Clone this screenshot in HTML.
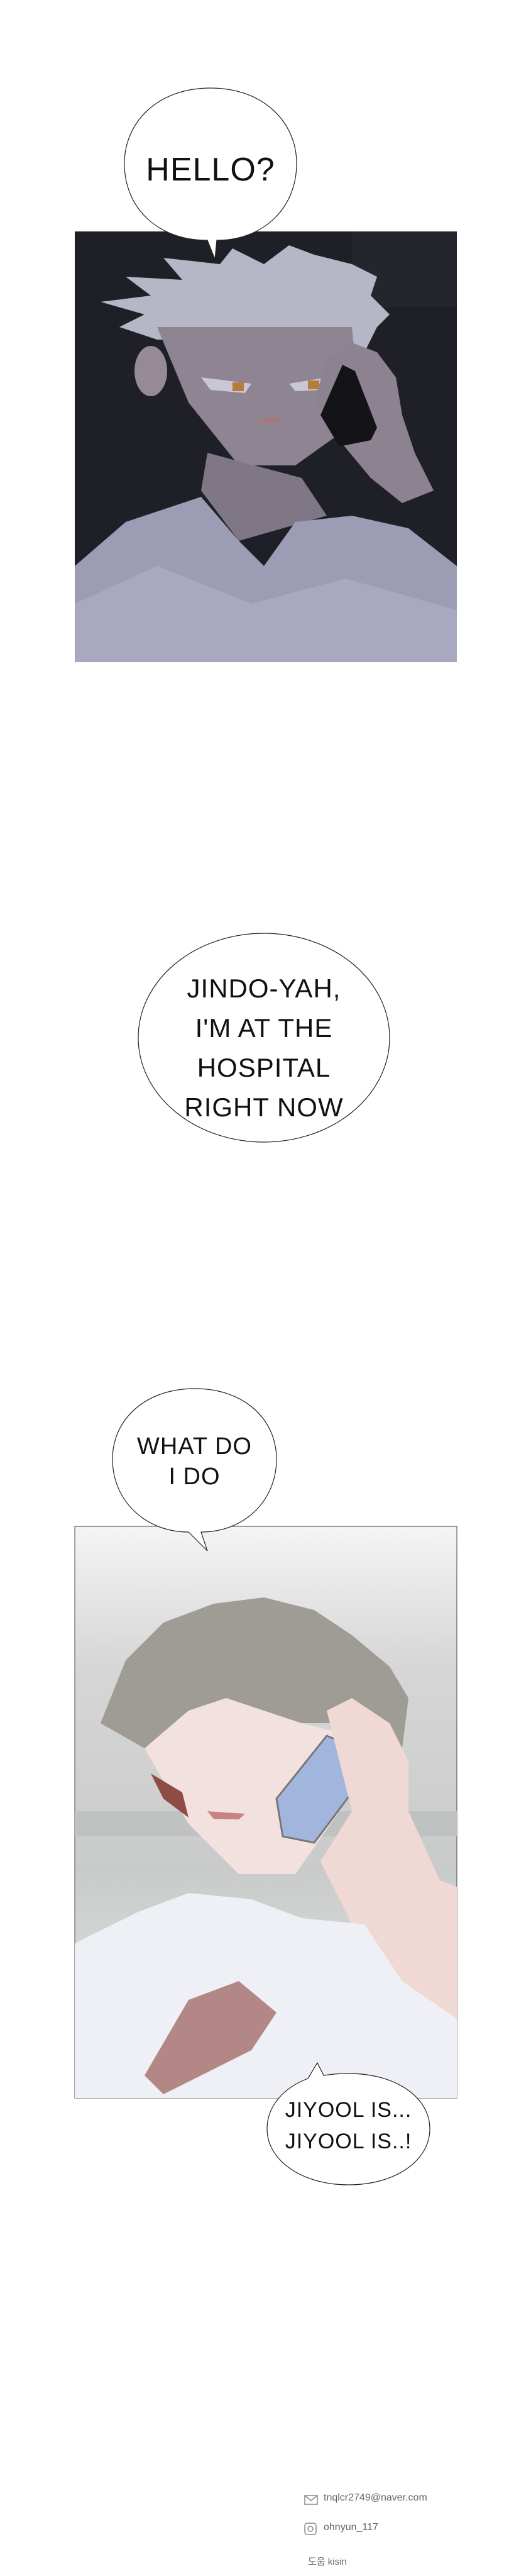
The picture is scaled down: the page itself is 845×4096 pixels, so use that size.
<!DOCTYPE html>
<html><head><meta charset="utf-8">
<style>
html,body{margin:0;padding:0;background:#fff;}
body{width:845px;height:4096px;position:relative;overflow:hidden;font-family:"Liberation Sans","Noto Sans CJK KR",sans-serif;}
.t{position:absolute;text-align:center;color:#111;letter-spacing:1px;}
</style></head><body>
<svg width="845" height="4096" style="position:absolute;left:0;top:0">
<defs>
<linearGradient id="p2" x1="0" y1="0" x2="0" y2="1">
<stop offset="0" stop-color="#f4f4f4"/><stop offset="0.25" stop-color="#d6d6d6"/><stop offset="0.6" stop-color="#c9cbca"/><stop offset="1" stop-color="#e8e9ec"/>
</linearGradient>
</defs>
<!-- Panel 1 -->
<rect x="119" y="368" width="608" height="685" fill="#1f2027"/>
<rect x="560" y="368" width="167" height="120" fill="#25262d"/>
<!-- hair -->
<path d="M160 480 L240 470 L200 440 L290 445 L260 410 L350 420 L370 395 L420 420 L460 390 L500 405 L560 420 L600 440 L590 470 L620 500 L600 520 L580 560 L450 520 L330 540 L250 540 L190 520 L230 500 Z" fill="#b6b7c6"/>
<!-- face -->
<path d="M250 520 L560 520 L570 620 L540 690 L470 740 L380 740 L300 640 Z" fill="#8f8491"/>
<ellipse cx="240" cy="590" rx="26" ry="40" fill="#968a96"/>
<!-- eyes -->
<path d="M320 600 L400 610 L390 625 L335 620 Z" fill="#c9c6d6"/>
<path d="M460 610 L520 600 L515 620 L470 622 Z" fill="#c9c6d6"/>
<rect x="370" y="608" width="18" height="14" fill="#b67c3a"/>
<rect x="490" y="605" width="18" height="14" fill="#b67c3a"/>
<path d="M410 667 L450 664 L440 672 L415 673 Z" fill="#a9777a"/>
<!-- hand + phone -->
<path d="M500 640 L520 570 L560 545 L600 560 L630 600 L640 660 L660 720 L690 780 L640 800 L590 760 L540 700 Z" fill="#8d8290"/>
<path d="M510 660 L545 580 L565 590 L600 680 L590 700 L540 710 Z" fill="#141418"/>
<!-- neck + shirt -->
<path d="M330 720 L480 760 L520 820 L380 860 L320 780 Z" fill="#7f7785"/>
<path d="M119 900 L200 830 L320 790 L380 860 L420 900 L470 830 L560 820 L650 840 L727 900 L727 1053 L119 1053 Z" fill="#9c9cb4"/>
<path d="M119 960 L250 900 L400 960 L550 920 L727 970 L727 1053 L119 1053 Z" fill="#a8a9c0"/>
<!-- Panel 2 -->
<rect x="119" y="2427" width="608" height="909" fill="url(#p2)" stroke="#444" stroke-width="1"/>
<rect x="119" y="2880" width="608" height="40" fill="#c0c2c1"/>
<!-- hair -->
<path d="M160 2740 L200 2640 L260 2580 L340 2550 L420 2540 L500 2560 L560 2600 L620 2650 L650 2700 L640 2780 L560 2740 L480 2740 L380 2760 L300 2790 L230 2780 Z" fill="#9e9c95"/>
<!-- face -->
<path d="M230 2780 L300 2720 L360 2700 L480 2740 L560 2760 L540 2880 L470 2980 L380 2980 L300 2900 Z" fill="#f3e1e0"/>
<path d="M240 2820 L290 2850 L300 2890 L260 2860 Z" fill="#8f4b45"/>
<path d="M330 2880 L390 2884 L380 2893 L340 2892 Z" fill="#c9837f"/>
<!-- phone + hand -->
<path d="M440 2860 L520 2760 L570 2780 L560 2850 L500 2930 L450 2920 Z" fill="#a2b6dd" stroke="#777" stroke-width="3"/>
<path d="M520 2720 L560 2700 L620 2740 L650 2800 L650 2880 L700 2990 L727 3000 L727 3210 L640 3200 L560 3060 L510 2960 L560 2880 L540 2800 Z" fill="#f0d8d4"/>
<!-- shirt -->
<path d="M119 3090 L220 3040 L300 3010 L400 3020 L480 3050 L580 3060 L640 3150 L727 3210 L727 3336 L119 3336 Z" fill="#eef0f6"/>
<path d="M300 3180 L380 3150 L440 3200 L400 3260 L320 3300 L260 3330 L230 3300 Z" fill="#9a5a55" opacity="0.7"/>
<!-- Bubbles -->
<g fill="#fff" stroke="#222" stroke-width="1.2">
<path d="M335 140 C420 140 472 195 472 260 C472 330 420 382 345 382 L342 412 L330 382 C250 382 198 330 198 260 C198 195 250 140 335 140 Z"/>
<ellipse cx="420" cy="1650" rx="200" ry="166"/>
<path d="M310 2208 C390 2208 440 2258 440 2320 C440 2385 390 2436 320 2436 L330 2466 L300 2436 C230 2436 179 2385 179 2320 C179 2258 230 2208 310 2208 Z"/>
<path d="M555 3297 C630 3297 684 3335 684 3385 C684 3435 630 3474 555 3474 C480 3474 425 3435 425 3385 C425 3350 450 3320 490 3305 L505 3280 L515 3300 C528 3298 540 3297 555 3297 Z"/>
</g>
<!-- footer icons -->
<rect x="485" y="3968" width="20" height="14" fill="none" stroke="#888" stroke-width="1.5"/>
<path d="M485 3968 L495 3976 L505 3968" fill="none" stroke="#888" stroke-width="1.5"/>
<rect x="485" y="4012" width="18" height="18" rx="4" fill="none" stroke="#888" stroke-width="1.5"/>
<circle cx="494" cy="4021" r="4" fill="none" stroke="#888" stroke-width="1.5"/>
</svg>
<div class="t" style="left:198px;top:244px;width:274px;font-size:52px;line-height:52px;">HELLO?</div>
<div class="t" style="left:240px;top:1540px;width:360px;font-size:42px;line-height:63px;">JINDO-YAH,<br>I'M AT THE<br>HOSPITAL<br>RIGHT NOW</div>
<div class="t" style="left:179px;top:2276px;width:261px;font-size:38px;line-height:48px;">WHAT DO<br>I DO</div>
<div class="t" style="left:425px;top:3330px;width:259px;font-size:34px;line-height:50px;">JIYOOL IS...<br>JIYOOL IS..!</div>
<div style="position:absolute;left:515px;top:3963px;font-size:16px;color:#666;">tnqlcr2749@naver.com</div>
<div style="position:absolute;left:515px;top:4010px;font-size:16px;color:#666;">ohnyun_117</div>
<div style="position:absolute;left:490px;top:4062px;font-size:15px;color:#666;">도움 kisin</div>
</body></html>
